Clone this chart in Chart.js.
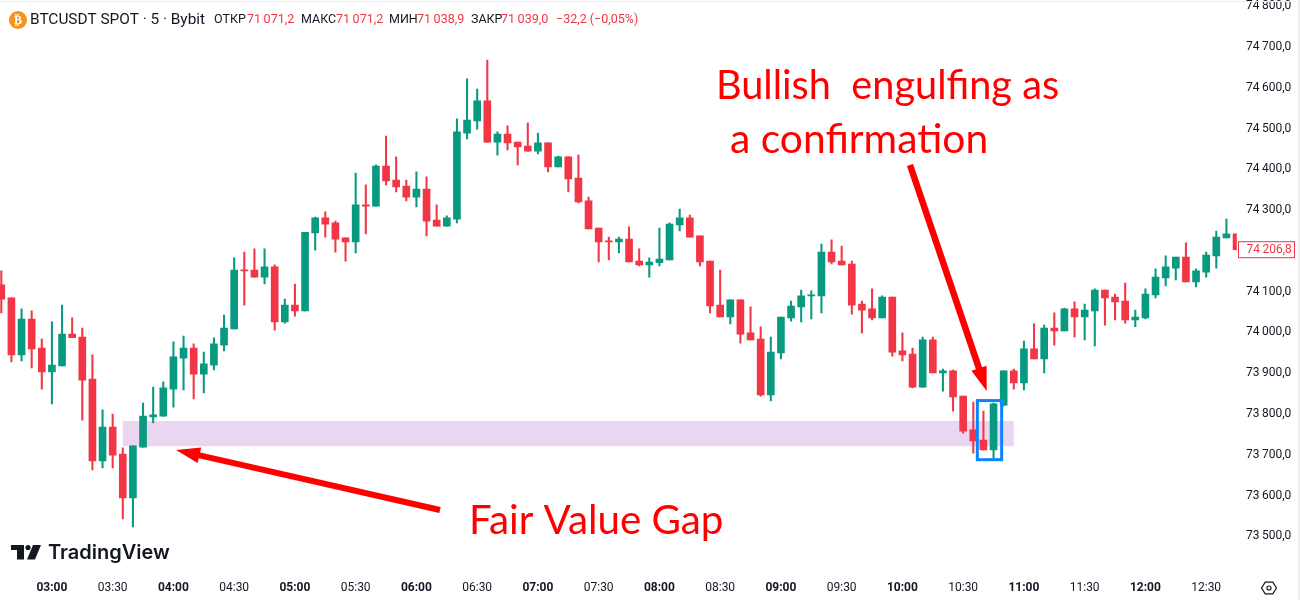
<!DOCTYPE html>
<html>
<head>
<meta charset="utf-8">
<title>BTCUSDT SPOT 5</title>
<script src="https://cdn.jsdelivr.net/npm/chart.js@4"></script>
<style>
  html, body { margin: 0; padding: 0; background: #fff; }
  #wrap { width: 1300px; height: 600px; }
</style>
</head>
<body>
<div id="wrap"><canvas id="chart" width="1300" height="600"></canvas></div>
<script>
const times = [
  "02:35","02:40","02:45","02:50","02:55","03:00","03:05","03:10","03:15","03:20","03:25","03:30",
  "03:35","03:40","03:45","03:50","03:55","04:00","04:05","04:10","04:15","04:20","04:25","04:30",
  "04:35","04:40","04:45","04:50","04:55","05:00","05:05","05:10","05:15","05:20","05:25","05:30",
  "05:35","05:40","05:45","05:50","05:55","06:00","06:05","06:10","06:15","06:20","06:25","06:30",
  "06:35","06:40","06:45","06:50","06:55","07:00","07:05","07:10","07:15","07:20","07:25","07:30",
  "07:35","07:40","07:45","07:50","07:55","08:00","08:05","08:10","08:15","08:20","08:25","08:30",
  "08:35","08:40","08:45","08:50","08:55","09:00","09:05","09:10","09:15","09:20","09:25","09:30",
  "09:35","09:40","09:45","09:50","09:55","10:00","10:05","10:10","10:15","10:20","10:25","10:30",
  "10:35","10:40","10:45","10:50","10:55","11:00","11:05","11:10","11:15","11:20","11:25","11:30",
  "11:35","11:40","11:45","11:50","11:55","12:00","12:05","12:10","12:15","12:20","12:25","12:30",
  "12:35","12:40","12:45"
];
const xTicks = ["03:00","03:30","04:00","04:30","05:00","05:30","06:00","06:30","07:00","07:30","08:00","08:30","09:00","09:30","10:00","10:30","11:00","11:30","12:00","12:30"];
const yTicks = [73500,73600,73700,73800,73900,74000,74100,74200,74300,74400,74500,74600,74700,74800];

const opens = [
  74117,74085,73945,74033,73962,73903,73918,73996,73989,73886,73685,73768,
  73702,73594,73719,73793,73795,73861,73937,73962,73898,73920,73969,74009,
  74153,74153,74136,74161,74026,74067,74053,74244,74281,74269,74232,74222,
  74313,74310,74408,74374,74359,74332,74352,74276,74261,74278,74489,74519,
  74568,74467,74487,74467,74457,74445,74465,74406,74431,74379,74323,74256,
  74225,74222,74229,74175,74166,74171,74178,74264,74281,74237,74175,74067,
  74038,74080,73999,73984,73847,73950,74036,74063,74090,74090,74197,74175,
  74168,74070,74058,74036,74087,73955,73947,73866,73982,73901,73906,73844,
  73761,73736,73712,73822,73906,73876,73960,73935,74011,74004,74058,74038,
  74053,74104,74087,74077,74031,74036,74092,74134,74158,74185,74124,74148,
  74188,74232,74242
];
const highs = [
  74151,74085,74058,74053,73984,74026,74067,74036,74011,73945,73810,73800,
  73717,73722,73827,73866,73879,73977,73991,73972,73952,73987,74043,74183,
  74197,74205,74205,74166,74082,74119,74246,74283,74296,74273,74232,74391,
  74362,74411,74482,74431,74374,74394,74382,74313,74286,74524,74622,74597,
  74668,74492,74507,74467,74514,74489,74465,74433,74431,74435,74332,74256,
  74234,74234,74259,74205,74183,74256,74269,74303,74288,74237,74175,74153,
  74080,74080,74063,74014,73989,74038,74077,74104,74102,74217,74227,74212,
  74175,74077,74107,74090,74087,73999,73962,73989,73989,73910,73908,73844,
  73829,73807,73827,73906,73910,73979,74021,74018,74048,74060,74075,74070,
  74107,74104,74094,74121,74055,74107,74156,74188,74185,74220,74156,74197,
  74249,74278,74242
];
const lows = [
  74048,73928,73930,73913,73861,73825,73918,73987,73785,73663,73668,73668,
  73543,73523,73719,73778,73795,73817,73859,73837,73852,73908,73955,74009,
  74067,74136,74119,74006,74023,74040,74053,74202,74234,74197,74175,74195,
  74242,74310,74362,74345,74323,74308,74237,74261,74261,74269,74475,74499,
  74467,74435,74448,74411,74445,74438,74394,74406,74345,74318,74254,74173,
  74178,74195,74173,74163,74136,74163,74178,74249,74234,74163,74048,74038,
  74021,73974,73982,73844,73832,73935,74028,74026,74033,74048,74168,74166,
  74045,73999,74031,74036,73942,73930,73864,73866,73901,73856,73807,73753,
  73704,73712,73692,73820,73861,73859,73935,73901,73969,74004,73989,73982,
  73967,74018,74031,74023,74014,74033,74085,74114,74129,74124,74112,74136,
  74158,74232,74202
];
const closes = [
  74082,73945,74033,73960,73903,73920,73996,73987,73883,73685,73768,73699,
  73594,73722,73795,73798,73864,73940,73962,73898,73923,73972,74011,74153,
  74151,74136,74161,74026,74067,74053,74246,74281,74266,74229,74222,74313,
  74310,74408,74372,74357,74332,74352,74273,74261,74281,74492,74521,74568,
  74467,74487,74465,74455,74445,74465,74406,74431,74377,74320,74254,74222,
  74222,74229,74173,74166,74173,74180,74266,74281,74234,74173,74065,74038,
  74080,73996,73982,73847,73952,74038,74065,74090,74092,74197,74173,74166,
  74067,74055,74036,74087,73952,73945,73866,73982,73901,73906,73842,73758,
  73734,73712,73825,73906,73876,73960,73935,74011,74004,74058,74038,74055,
  74104,74085,74075,74031,74038,74094,74136,74161,74185,74124,74151,74190,
  74234,74242,74203
];

const lastPrice = 74206.8;
// fair value gap and the engulfing box, in chart units (candle index, price)
const fvgFrom = 12, fvgTo = 100, fvgTop = 73783, fvgBottom = 73721;
const boxFrom = 96.4, boxTo = 98.8, boxTop = 73833, boxBottom = 73688;

const UP = '#089981', DOWN = '#f23645';
const candleColor = opens.map((o, i) => closes[i] >= o ? UP : DOWN);

function priceLabel(v) {
  // 74300 -> "74 300,0"
  const s = v.toFixed(1).replace('.', ',');
  return s.slice(0, 2) + '\u2009' + s.slice(2);
}

function arrow(ctx, x0, y0, x1, y1, shaft, headLen, headHalf) {
  const a = Math.atan2(y1 - y0, x1 - x0);
  ctx.save();
  ctx.translate(x1, y1);
  ctx.rotate(a);
  const len = Math.hypot(x1 - x0, y1 - y0);
  ctx.fillStyle = '#ff0000';
  ctx.fillRect(-len, -shaft / 2, len - headLen + 2, shaft);
  ctx.beginPath();
  ctx.moveTo(0, 0);
  ctx.lineTo(-headLen, -headHalf);
  ctx.lineTo(-headLen, headHalf);
  ctx.closePath();
  ctx.fill();
  ctx.restore();
}

function label(ctx, txt, x, y, font, color) {
  ctx.font = font;
  ctx.fillStyle = color;
  ctx.fillText(txt, x, y);
}

// tick labels must not push the plot area in
function noPadding(s) {
  s.paddingLeft = s.paddingRight = s.paddingTop = s.paddingBottom = 0;
}

// purple zone has to sit under the candles
const zonePlugin = {
  id: 'zone',
  beforeDatasetsDraw(chart) {
    const { ctx, scales: { x, y } } = chart;
    ctx.save();
    ctx.fillStyle = '#ead6f0';
    const left = x.getPixelForValue(fvgFrom), right = x.getPixelForValue(fvgTo);
    const top = y.getPixelForValue(fvgTop), bottom = y.getPixelForValue(fvgBottom);
    ctx.fillRect(left, top, right - left, bottom - top);
    ctx.restore();
  }
};

const overlayPlugin = {
  id: 'overlay',
  afterDraw(chart) {
    const { ctx, scales: { x, y } } = chart;
    ctx.save();
    ctx.textBaseline = 'middle';
    ctx.textAlign = 'left';

    // window edge
    ctx.fillStyle = '#eeeeee';
    ctx.fillRect(0, 1, 1300, 1);
    ctx.fillRect(1298, 0, 2, 600);

    // engulfing box
    ctx.strokeStyle = '#0a84ff';
    ctx.lineWidth = 3;
    const bl = x.getPixelForValue(boxFrom), br = x.getPixelForValue(boxTo);
    const bt = y.getPixelForValue(boxTop), bb = y.getPixelForValue(boxBottom);
    ctx.strokeRect(bl, bt, br - bl, bb - bt);

    // arrows
    arrow(ctx, 440, 510, 176, 450, 6, 24, 8);
    arrow(ctx, 910, 165, 986.7, 391, 6.5, 24, 8);

    // annotations
    label(ctx, 'Bullish  engulfing as', 716, 86, '39.7px Lato', '#ff0000');
    label(ctx, 'a confirmation', 730, 140, '40.8px Lato', '#ff0000');
    label(ctx, 'Fair Value Gap', 469, 521, '40.3px Lato', '#ff0000');

    // header
    ctx.fillStyle = '#f7931a';
    ctx.beginPath();
    ctx.arc(18, 20, 9, 0, Math.PI * 2);
    ctx.fill();
    ctx.textAlign = 'center';
    label(ctx, '\u20BF', 18, 20.5, 'bold 12px "DejaVu Sans"', '#ffffff');
    ctx.textAlign = 'left';
    label(ctx, 'BTCUSDT SPOT \u00B7 5 \u00B7 Bybit', 30, 20, '15.4px Roboto', '#131722');
    const small = '12.5px Roboto';
    label(ctx, '\u041E\u0422\u041A\u0420', 214, 20, small, '#131722');
    label(ctx, '71\u2009071,2', 247, 20, small, DOWN);
    label(ctx, '\u041C\u0410\u041A\u0421', 301, 20, small, '#131722');
    label(ctx, '71\u2009071,2', 336, 20, small, DOWN);
    label(ctx, '\u041C\u0418\u041D', 389, 20, small, '#131722');
    label(ctx, '71\u2009038,9', 417, 20, small, DOWN);
    label(ctx, '\u0417\u0410\u041A\u0420', 471, 20, small, '#131722');
    label(ctx, '71\u2009039,0', 501, 20, small, DOWN);
    label(ctx, '\u221232,2 (\u22120,05%)', 556, 20, small, DOWN);

    // TradingView logo
    ctx.fillStyle = '#131722';
    ctx.fillRect(11, 545, 13, 5);
    ctx.fillRect(17, 545, 7, 14.5);
    ctx.beginPath();
    ctx.arc(28, 547.5, 2.6, 0, Math.PI * 2);
    ctx.fill();
    ctx.beginPath();
    ctx.moveTo(33, 545);
    ctx.lineTo(41, 545);
    ctx.lineTo(35, 559.5);
    ctx.lineTo(27, 559.5);
    ctx.closePath();
    ctx.fill();
    label(ctx, 'TradingView', 48, 553, '600 20px Inter', '#131722');

    // last price tag
    const tagY = y.getPixelForValue(lastPrice) + 1.5;
    ctx.fillStyle = '#ffffff';
    ctx.fillRect(1238.5, tagY - 8, 56, 16);
    ctx.strokeStyle = DOWN;
    ctx.lineWidth = 1;
    ctx.strokeRect(1238.5, tagY - 8, 56, 16);
    label(ctx, priceLabel(lastPrice), 1246.5, tagY, '12px Roboto', DOWN);

    // settings icon
    ctx.strokeStyle = '#131722';
    ctx.lineWidth = 1.2;
    ctx.beginPath();
    for (let k = 0; k < 6; k++) {
      const a = k * Math.PI / 3;
      const px = 1269 + 7.5 * Math.cos(a), py = 588 + 6.8 * Math.sin(a);
      if (k == 0) ctx.moveTo(px, py); else ctx.lineTo(px, py);
    }
    ctx.closePath();
    ctx.stroke();
    ctx.beginPath();
    ctx.arc(1269, 588, 2, 0, Math.PI * 2);
    ctx.stroke();
    ctx.restore();
  }
};

new Chart(document.getElementById('chart'), {
  type: 'bar',
  data: {
    labels: times,
    datasets: [
      {
        label: 'wick',
        data: times.map((t, i) => [lows[i], highs[i]]),
        backgroundColor: candleColor,
        barThickness: 1.4,
        grouped: false,
        order: 2,
        clip: { left: 6, top: 0, right: 0, bottom: 0 }
      },
      {
        label: 'body',
        data: times.map((t, i) => [opens[i], closes[i]]),
        backgroundColor: candleColor,
        barThickness: 7,
        minBarLength: 1,
        grouped: false,
        order: 1,
        clip: { left: 6, top: 0, right: 0, bottom: 0 }
      }
    ]
  },
  options: {
    responsive: false,
    animation: false,
    layout: { autoPadding: false, padding: { left: 1.3, right: 0, top: 0, bottom: 0 } },
    plugins: { legend: { display: false }, tooltip: { enabled: false } },
    scales: {
      x: {
        type: 'category',
        offset: false,
        grid: { display: false, drawTicks: false },
        border: { display: false },
        afterFit(s) { s.height = 30; noPadding(s); },
        ticks: {
          autoSkip: false,
          maxRotation: 0,
          padding: 11,
          color: '#131722',
          font: ctx => {
            const t = times[ctx.index];
            return { family: 'Roboto', size: 12, weight: t && t.endsWith(':00') ? 'bold' : 'normal' };
          },
          callback(val) {
            const t = this.getLabelForValue(val);
            return xTicks.includes(t) ? t : '';
          }
        }
      },
      y: {
        position: 'right',
        min: 73417.4,
        max: 74815.6,
        grid: { display: false, drawTicks: false },
        border: { display: false },
        afterFit(s) { s.width = 63.45; noPadding(s); },
        afterBuildTicks(s) {
          s.ticks = yTicks.map(v => ({ value: v }));
        },
        ticks: {
          padding: 9.5,
          color: '#131722',
          font: { family: 'Roboto', size: 12 },
          callback: v => priceLabel(v)
        }
      }
    }
  },
  plugins: [zonePlugin, overlayPlugin]
});
</script>
</body>
</html>
